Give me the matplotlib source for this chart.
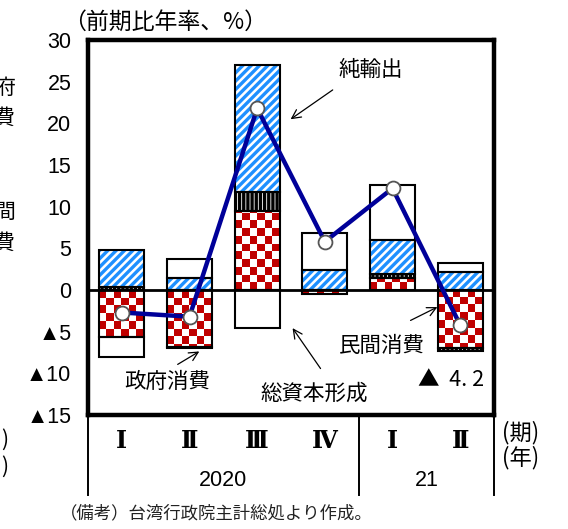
import numpy as np
import matplotlib
matplotlib.use('Agg')
import matplotlib.pyplot as plt
from matplotlib.colors import ListedColormap
from matplotlib.lines import Line2D

plt.rcParams['font.family'] = ['Noto Sans CJK JP', 'DejaVu Sans']
plt.rcParams['hatch.linewidth'] = 2.4

#######################################
# data (前期比年率、%)
#######################################
quarters = ['Ⅰ', 'Ⅱ', 'Ⅲ', 'Ⅳ', 'Ⅰ', 'Ⅱ']
years = ['2020', '21']
year_quarters = [4, 2]
private_cons = [-5.6, -6.8, 9.5, -0.5, 1.5, -6.9]   # 民間消費
gov_cons = [0.4, -0.2, 2.3, 0.0, 0.4, -0.4]         # 政府消費
net_exports = [4.4, 1.5, 15.2, 2.4, 4.1, 2.2]       # 純輸出
capital_form = [-2.4, 2.2, -4.6, 4.4, 6.6, 1.0]     # 総資本形成
gdp = [-2.7, -3.2, 21.8, 5.8, 12.2, -4.2]
yticks = [30, 25, 20, 15, 10, 5, 0, -5, -10, -15]
ytick_labels = ['30', '25', '20', '15', '10', '5', '0', '▲5', '▲10', '▲15']

num_font = ['Liberation Sans Narrow', 'Liberation Sans', 'DejaVu Sans']
W, H = 568, 529

fig = plt.figure(figsize=(W / 100, H / 100), dpi=100)
ax = fig.add_axes([88 / W, 1 - 415 / H, 406 / W, 375 / H])

x = np.arange(len(quarters)) + 0.5
bw = 0.665


def checker(ax, patch, left, width, height):
    # red/white checkerboard texture clipped to a bar
    ncols = 6
    ch = 0.92
    nrows = int(np.ceil(abs(height) / ch)) + 1
    arr = np.add.outer(np.arange(nrows), np.arange(ncols)) % 2
    cmap = ListedColormap(['#C00000', 'white'])
    if height >= 0:
        ext = (left, left + width, 0, nrows * ch)
        org = 'lower'
    else:
        ext = (left, left + width, -nrows * ch, 0)
        org = 'upper'
    im = ax.imshow(arr, extent=ext, origin=org, cmap=cmap, aspect='auto',
                   interpolation='nearest', zorder=2.1)
    im.set_clip_path(patch)


pos_base = np.zeros(len(x))
neg_base = np.zeros(len(x))
components = [
    ('checker', private_cons),
    ('gov', gov_cons),
    ('net', net_exports),
    ('cap', capital_form),
]
for kind, vals in components:
    vals = np.array(vals, dtype=float)
    bottoms = np.where(vals >= 0, pos_base, neg_base)
    if kind == 'checker':
        bars = ax.bar(x, vals, bw, bottom=bottoms, color='white', lw=0, zorder=2)
        for b, v in zip(bars, vals):
            if v != 0:
                checker(ax, b, b.get_x(), b.get_width(), v)
    elif kind == 'gov':
        ax.bar(x, vals, bw, bottom=bottoms, facecolor='white', edgecolor='black',
               hatch='||||', lw=0, zorder=2)
    elif kind == 'net':
        ax.bar(x, vals, bw, bottom=bottoms, facecolor='white', edgecolor='#1E90FF',
               hatch='////', lw=0, zorder=2)
    else:
        ax.bar(x, vals, bw, bottom=bottoms, facecolor='white', lw=0, zorder=2)
    ax.bar(x, vals, bw, bottom=bottoms, fill=False, edgecolor='black', lw=1.5, zorder=3)
    pos_base += np.clip(vals, 0, None)
    neg_base += np.clip(vals, None, 0)

ax.axhline(0, color='black', lw=2, zorder=3.5)
ax.plot(x, gdp, color='#000099', lw=3.2, marker='o', ms=10, mfc='white',
        mec='#555555', mew=1.3, zorder=5)

ax.set_xlim(0, len(quarters))
ax.set_ylim(-15, 30)
ax.set_xticks([])
ax.set_yticks(yticks)
ax.set_yticklabels(ytick_labels, family=num_font, fontsize=15.5)
ax.tick_params(axis='y', length=0, pad=12)
for s in ax.spines.values():
    s.set_linewidth(3.2)

# annotations
arr_kw = dict(arrowstyle='->', lw=0.9, color='black', mutation_scale=16)
ax.annotate('', xy=(2.96, 20.3), xytext=(3.65, 24.2), arrowprops=arr_kw)
ax.text(4.18, 26.4, '純輸出', ha='center', va='center', fontsize=15.5)
ax.annotate('', xy=(1.68, -7.2), xytext=(1.29, -9.1), arrowprops=arr_kw)
ax.text(1.17, -11.0, '政府消費', ha='center', va='center', fontsize=15.5)
ax.annotate('', xy=(3.0, -4.3), xytext=(3.46, -9.7), arrowprops=arr_kw)
ax.text(3.34, -12.4, '総資本形成', ha='center', va='center', fontsize=15.5)
ax.annotate('', xy=(5.2, -1.9), xytext=(4.73, -3.8), arrowprops=arr_kw)
ax.text(4.35, -6.7, '民間消費', ha='center', va='center', fontsize=15.5)
ax.text(5.36, -10.8, '▲  4. 2', ha='center', va='center', fontsize=15.5)

# category table below the axes
tr = ax.get_xaxis_transform()
for xi, q in zip(x, quarters):
    ax.text(xi, -0.069, q, transform=tr, ha='center', va='center',
            family=['DejaVu Serif', 'Noto Sans CJK JP'], fontsize=17,
            fontweight='bold')
edges = np.concatenate([[0], np.cumsum(year_quarters)])
for e in edges:
    ax.add_line(Line2D([e, e], [0, -0.213], transform=tr, color='black',
                       lw=1.4, clip_on=False))
for i, yr in enumerate(years):
    ax.text((edges[i] + edges[i + 1]) / 2, -0.176, yr, transform=tr,
            ha='center', va='center', family=num_font, fontsize=15.5)

fig.text(502 / W, 1 - 433 / H, '(期)', ha='left', va='center', fontsize=16)
fig.text(502 / W, 1 - 458 / H, '(年)', ha='left', va='center', fontsize=16)
fig.text(63 / W, 1 - 22 / H, '（前期比年率、%）', ha='left', va='center', fontsize=16.5)
fig.text(60 / W, 1 - 513 / H, '（備考）台湾行政院主計総処より作成。', ha='left',
         va='center', fontsize=12.5, color='#222222')

# cut-off labels of the neighbouring chart at the left edge
for ch, py in [('府', 88), ('費', 118), ('間', 212), ('費', 243)]:
    fig.text(15 / W, 1 - py / H, ch, ha='right', va='center', fontsize=15)
for py in [440, 467]:
    fig.text(8 / W, 1 - py / H, ')', ha='right', va='center', fontsize=15)

fig.savefig('out.png', dpi=100)
